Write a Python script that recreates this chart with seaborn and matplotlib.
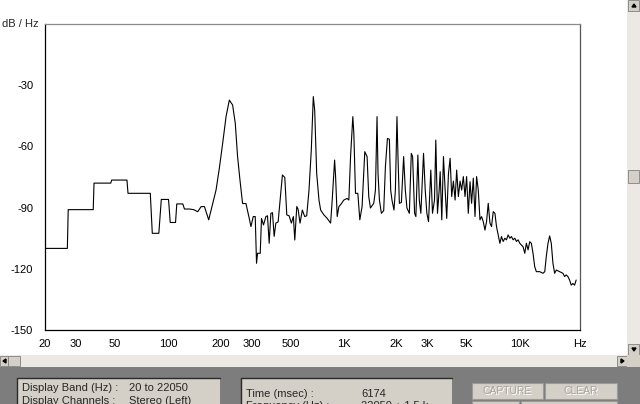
import numpy as np
import pandas as pd
import matplotlib.pyplot as plt
from matplotlib.patches import Rectangle, Polygon
from matplotlib.ticker import FixedLocator, NullLocator
import seaborn as sns

# ─────────────────────────────────────────────
# DATA  (spectrum trace)
# ─────────────────────────────────────────────
FREQ_HZ = [
    20, 20, 26.8, 27.1, 37.6, 38.0, 47.3, 47.9, 58.5, 59.3, 79.4, 81.5, 88.8,
    91.7, 100.8, 103.1, 110.5, 112.3, 121.5, 124.2, 132.6, 140, 147.8, 154.5,
    161.3, 170.6, 179.7, 187.8, 196.1, 204.8, 214.1, 223.5, 233.3, 241.6, 249,
    256.9, 265.8, 277.8, 290.1, 296.6, 305.6, 313.7, 319.1, 323.3, 334.9,
    340.6, 349.6, 360.7, 368.4, 376.6, 385, 393.2, 401.9, 410.9, 423.4, 434.6,
    447.8, 462, 474.3, 488.8, 503.7, 517, 526.6, 540.5, 549.5, 564.1, 581.3,
    599.8, 615.6, 634.3, 653.7, 671, 683.3, 701.4, 722.8, 738.9, 771.4, 805.4,
    841.8, 859.6, 887, 898.5, 917.5, 938, 966.7, 1001, 1045, 1069, 1093, 1126,
    1141, 1166, 1202, 1234, 1271, 1317, 1357, 1387, 1418, 1481, 1514, 1546,
    1566, 1595, 1637, 1687, 1725, 1771, 1817, 1849, 1880, 1930, 1966, 2007,
    2034, 2071, 2126, 2190, 2239, 2287, 2360, 2421, 2463, 2528, 2571, 2639,
    2688, 2744, 2842, 2906, 2968, 3034, 3126, 3196, 3281, 3337, 3412, 3488,
    3534, 3609, 3689, 3772, 3850, 3938, 4025, 4110, 4202, 4296, 4386, 4485,
    4585, 4681, 4786, 4893, 4996, 5108, 5224, 5333, 5453, 5576, 5693, 5821,
    5951, 6077, 6213, 6353, 6486, 6631, 6781, 6923, 7078, 7237, 7389, 7554,
    7724, 7886, 8064, 8244, 8418, 8606, 8799, 8985, 9186, 9391, 9590, 9804,
    10025, 10235, 10464, 10700, 10925, 11170, 11420, 11660, 11920, 12190,
    12450, 13010, 13580, 13900, 14180, 14500, 14820, 15140, 15470, 15820,
    16170, 16890, 17630, 18030, 18410, 18820, 19240, 19650, 20090, 20540,
    20970,
]
LEVEL_DB = [
    -140, -110, -110, -91, -91, -78, -78, -76.5, -76.5, -83, -83, -102.6,
    -102.6, -86, -86, -97.3, -97.3, -88.2, -88.2, -90.7, -90.7, -91, -92,
    -89.5, -89.5, -96, -88, -81.4, -70.7, -58.5, -45.4, -37.3, -39.7, -48.7,
    -65, -76.5, -88, -88, -95.3, -99.3, -94.4, -94.4, -117.3, -112.4, -112.4,
    -95.3, -98.5, -94.4, -94, -107.5, -92.8, -92.5, -104.1, -97.6, -97, -86.3,
    -74, -75.2, -93.6, -94, -97.6, -94.4, -105.9, -89.5, -90.7, -97.6, -91.2,
    -94.4, -94, -81.4, -61.8, -35.6, -42.2, -73.2, -86.3, -91.2, -93.6, -95.3,
    -97.6, -86.3, -66.7, -74.8, -94.4, -89.5, -88.2, -86.3, -85.5, -86.3, -65,
    -45.4, -53.6, -83, -83, -96, -89.5, -62.6, -65, -84.6, -90.2, -87.9,
    -81.4, -45.4, -73.2, -86.3, -92.8, -91.5, -70, -56.1, -56.5, -81.4, -86.3,
    -91.2, -81.4, -45.4, -65, -87.9, -87.5, -65, -81.4, -90.2, -92.8, -63.4,
    -65, -92.8, -94.4, -64.2, -86.3, -92.8, -63.4, -81.4, -92.8, -96.9, -71.6,
    -92.8, -86.3, -56.9, -92.8, -81.4, -72.4, -96, -65, -81.4, -95.3, -73.5,
    -65.8, -84.6, -77, -86.3, -71.6, -84.6, -77, -81.4, -74.8, -84.6, -74.8,
    -92.8, -77.3, -87.9, -75.6, -94.4, -74.8, -81.4, -96, -94.4, -96.9, -101,
    -96.9, -87.9, -97.6, -99.3, -92, -92.8, -99.3, -103.4, -107.5, -104.2,
    -106.6, -105, -105.8, -103.4, -105, -104.2, -105.8, -105, -106.6, -105.8,
    -107.5, -108.3, -109.2, -112.4, -107.5, -110.7, -106.7, -107.5, -112.4,
    -119, -121.4, -121.4, -122.2, -121.4, -114, -107.5, -103.9, -107.5,
    -117.3, -122.2, -120.6, -121.4, -122.2, -123.8, -123, -123.8, -125.5,
    -128, -127.2, -128, -125.5,
]

X_TICKS = [20, 30, 50, 100, 200, 300, 500, 1000, 2000, 3000, 5000, 10000, 22050]
X_LABELS = ['20', '30', '50', '100', '200', '300', '500', '1K', '2K', '3K',
            '5K', '10K', 'Hz']
Y_TICKS = [-150, -120, -90, -60, -30]
Y_LABELS = ['-150', '-120', '-90', '-60', '-30']

PANEL1 = [('Display Band (Hz) :', '20 to 22050'),
          ('Display Channels :', 'Stereo (Left)')]
PANEL2 = [('Time (msec) :', '6174'),
          ('Frequency (Hz) :', '22050 ÷ 1.5 k')]
BUTTONS = ['CAPTURE', 'CLEAR']

# ─────────────────────────────────────────────
# STYLE
# ─────────────────────────────────────────────
sns.set_theme(style='white')
plt.rcParams['font.family'] = ['Liberation Sans', 'DejaVu Sans']

W, H = 640, 404
fig = plt.figure(figsize=(W / 100, H / 100), dpi=100)
fig.patch.set_facecolor('white')


def box(x0, y0, x1, y1, **kw):
    """Rectangle given in screen pixels (top-left origin)."""
    r = Rectangle((x0 / W, 1 - y1 / H), (x1 - x0) / W, (y1 - y0) / H,
                  transform=fig.transFigure, **kw)
    fig.add_artist(r)
    return r


def arrow(pts):
    fig.add_artist(Polygon([(x / W, 1 - y / H) for x, y in pts], closed=True,
                           transform=fig.transFigure, color='black'))


def ftext(x, y, s, **kw):
    fig.text(x / W, 1 - y / H, s, **kw)


# ─────────────────────────────────────────────
# SPECTRUM AXES
# ─────────────────────────────────────────────
ax = fig.add_axes([45 / W, 1 - 330 / H, 535 / W, 306 / H])
spec = pd.DataFrame({'freq': FREQ_HZ, 'level': LEVEL_DB})
sns.lineplot(data=spec, x='freq', y='level', estimator=None, sort=False,
             color='black', lw=0.8, ax=ax)
ax.set_xscale('log')
ax.set_xlim(20, 22050)
ax.set_ylim(-150, 0)
ax.xaxis.set_major_locator(FixedLocator(X_TICKS))
ax.xaxis.set_minor_locator(NullLocator())
ax.set_xticklabels(X_LABELS)
ax.set_yticks(Y_TICKS)
ax.set_yticklabels(Y_LABELS)
ax.tick_params(axis='both', length=0, labelsize=8, colors='black')
ax.tick_params(axis='x', pad=6.5)
ax.tick_params(axis='y', pad=8.5)
ax.set_xlabel('')
ax.set_ylabel('')
ax.grid(False)
ax.set_facecolor('white')
for side, col in [('left', 'black'), ('bottom', 'black'),
                  ('top', '#8a8a8a'), ('right', '#555555')]:
    ax.spines[side].set_visible(True)
    ax.spines[side].set_color(col)
    ax.spines[side].set_linewidth(0.9)
ax.annotate('dB / Hz', xy=(0, 0), xycoords=('axes fraction', 'data'),
            xytext=(-4.5, 0), textcoords='offset points',
            ha='right', va='center', fontsize=8)

# ─────────────────────────────────────────────
# WINDOW CHROME (scrollbars + status panel)
# ─────────────────────────────────────────────
face = '#d4d0c8'
track = '#ece9e4'
# vertical scrollbar
box(627, 0, 640, 355, facecolor=track, edgecolor='none')
for y0, y1 in [(0, 11), (344, 355), (170, 183)]:
    box(628, y0, 639, y1, facecolor=face, edgecolor='#808080', lw=0.6)
# horizontal scrollbar
box(0, 355, 627, 367, facecolor=track, edgecolor='none')
for x0, x1 in [(0, 8), (8, 20), (617, 627)]:
    box(x0, 356, x1, 366, facecolor=face, edgecolor='#808080', lw=0.6)
box(627, 355, 640, 367, facecolor=face, edgecolor='none')
arrow([(632, 7), (636, 7), (634, 4)])
arrow([(632, 348), (636, 348), (634, 351)])
arrow([(3, 361), (6, 359), (6, 363)])
arrow([(624, 361), (621, 359), (621, 363)])

# dark status area
box(0, 367, 640, 404, facecolor='#7d7d7d', edgecolor='none')

# info panels
for (x0, x1), rows, vx, ly in [((17, 220), PANEL1, 129, 388),
                               ((241, 452), PANEL2, 361, 394)]:
    y0 = 378
    box(x0, y0, x1, 410, facecolor=face, edgecolor='none')
    fig.add_artist(plt.Line2D([x0 / W, x0 / W, x1 / W],
                              [0, 1 - y0 / H, 1 - y0 / H],
                              transform=fig.transFigure, color='#2a2a2a', lw=1))
    for i, (lab, val) in enumerate(rows):
        yy = ly + i * 12.5
        ftext(x0 + 5, yy, lab, fontsize=8, va='center', ha='left')
        ftext(vx, yy, val, fontsize=8, va='center', ha='left')

# buttons
for (x0, x1), lab in zip([(472, 543), (545, 617)], BUTTONS):
    box(x0, 383, x1, 399, facecolor=face, edgecolor='#9a9a9a', lw=0.8)
    ftext((x0 + x1) / 2 + 0.6, 391.6, lab, fontsize=7.5, ha='center',
          va='center', color='white')
    ftext((x0 + x1) / 2, 391, lab, fontsize=7.5, ha='center', va='center',
          color='#a7a4a0')
for x0, x1 in [(472, 519), (521, 617)]:
    box(x0, 401, x1, 410, facecolor=face, edgecolor='#9a9a9a', lw=0.8)

plt.savefig('out.png', dpi=100)
